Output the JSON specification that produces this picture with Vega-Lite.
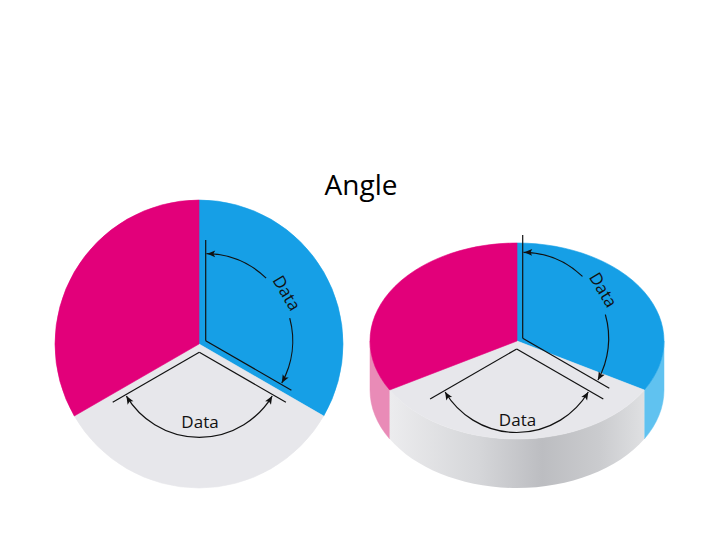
{
  "$schema": "https://vega.github.io/schema/vega-lite/v6.json",
  "width": 720,
  "height": 540,
  "padding": 0,
  "autosize": {"type": "none"},
  "background": "white",
  "config": {"view": {"stroke": null}},
  "datasets": {
    "pies": [
      {"pie": "flat", "slice": "A", "start": 0, "end": 120, "cx": 199, "cy": 344},
      {"pie": "flat", "slice": "B", "start": 120, "end": 240, "cx": 199, "cy": 344},
      {"pie": "flat", "slice": "C", "start": 240, "end": 360, "cx": 199, "cy": 344},
      {"pie": "3d", "slice": "A", "start": 0, "end": 120, "cx": 517, "cy": 341},
      {"pie": "3d", "slice": "B", "start": 120, "end": 240, "cx": 517, "cy": 341},
      {"pie": "3d", "slice": "C", "start": 240, "end": 360, "cx": 517, "cy": 341}
    ],
    "guides": [
      {"x": 205.7, "y": 240, "x2": 205.7, "y2": 340.7},
      {"x": 205.7, "y": 340.7, "x2": 291.4, "y2": 390.2},
      {"x": 112.7, "y": 402.3, "x2": 199.3, "y2": 352.3},
      {"x": 199.3, "y": 352.3, "x2": 285.9, "y2": 402.3},
      {"x": 522.7, "y": 235, "x2": 522.7, "y2": 338.3},
      {"x": 522.7, "y": 338.3, "x2": 609.3, "y2": 388.3},
      {"x": 430.1, "y": 399, "x2": 516.7, "y2": 349},
      {"x": 516.7, "y": 349, "x2": 603.3, "y2": 399}
    ],
    "arcs": [
      {"cx": 205.7, "cy": 340.7, "r": 87, "t0": 0.5, "t1": 44},
      {"cx": 205.7, "cy": 340.7, "r": 87, "t0": 75, "t1": 119},
      {"cx": 199.3, "cy": 352.3, "r": 85, "t0": 121, "t1": 239},
      {"cx": 522.7, "cy": 338.3, "r": 86, "t0": 0.5, "t1": 44},
      {"cx": 522.7, "cy": 338.3, "r": 86, "t0": 74, "t1": 119},
      {"cx": 516.7, "cy": 349, "r": 83.5, "t0": 121, "t1": 239}
    ],
    "arrows": [
      {"x": 207.2, "y": 253.7, "dir": 271},
      {"x": 281.8, "y": 382.9, "dir": 209},
      {"x": 272.2, "y": 396.1, "dir": 31},
      {"x": 126.4, "y": 396.1, "dir": 329},
      {"x": 524.2, "y": 252.3, "dir": 271},
      {"x": 597.9, "y": 380.0, "dir": 209},
      {"x": 588.3, "y": 392.0, "dir": 31},
      {"x": 445.1, "y": 392.0, "dir": 329}
    ],
    "labels": [
      {"x": 285.8, "y": 293.5, "text": "Data", "rot": 59.5},
      {"x": 200, "y": 423, "text": "Data", "rot": 0},
      {"x": 602.4, "y": 290.4, "text": "Data", "rot": 59},
      {"x": 517.5, "y": 421, "text": "Data", "rot": 0}
    ],
    "title": [
      {"x": 361, "y": 195, "text": "Angle"}
    ]
  },
  "layer": [
    {
      "data": {"name": "pies"},
      "transform": [{"filter": "datum.pie == 'flat'"}],
      "mark": {"type": "arc", "radius": 144, "strokeWidth": 0.6},
      "encoding": {
        "x": {"field": "cx", "type": "quantitative", "scale": {"domain": [0, 720], "nice": false, "zero": false}, "axis": null},
        "y": {"field": "cy", "type": "quantitative", "scale": {"domain": [0, 540], "nice": false, "zero": false, "reverse": true}, "axis": null},
        "theta": {"field": "start", "type": "quantitative", "scale": {"domain": [0, 360], "range": [0, 6.283185307179586]}},
        "theta2": {"field": "end"},
        "color": {"field": "slice", "type": "nominal", "scale": {"domain": ["A", "B", "C"], "range": ["#169FE6", "#E7E7EB", "#E2007A"]}, "legend": null},
        "stroke": {"field": "slice", "type": "nominal", "scale": {"domain": ["A", "B", "C"], "range": ["#169FE6", "#E7E7EB", "#E2007A"]}, "legend": null}
      }
    },
    {
      "data": {"name": "pies"},
      "transform": [{"filter": "datum.pie == '3d' && datum.slice == 'C'"}],
      "mark": {"type": "point", "filled": true, "opacity": 1, "size": 86436, "fill": "#E98BB7", "stroke": "#E98BB7", "strokeWidth": 0.5,
        "shape": "M-1,0 A1,0.6667 0 0,0 -0.866,0.3333 L-0.866,0.6667 A1,0.6667 0 0,1 -1,0.3333 Z"},
      "encoding": {
        "x": {"field": "cx", "type": "quantitative"},
        "y": {"field": "cy", "type": "quantitative"}
      }
    },
    {
      "data": {"name": "pies"},
      "transform": [{"filter": "datum.pie == '3d' && datum.slice == 'A'"}],
      "mark": {"type": "point", "filled": true, "opacity": 1, "size": 86436, "fill": "#60C2F0", "stroke": "#60C2F0", "strokeWidth": 0.5,
        "shape": "M0.866,0.3333 A1,0.6667 0 0,0 1,0 L1,0.3333 A1,0.6667 0 0,1 0.866,0.6667 Z"},
      "encoding": {
        "x": {"field": "cx", "type": "quantitative"},
        "y": {"field": "cy", "type": "quantitative"}
      }
    },
    {
      "data": {"name": "pies"},
      "transform": [{"filter": "datum.pie == '3d' && datum.slice == 'B'"}],
      "mark": {"type": "point", "filled": true, "opacity": 1, "size": 86436,
        "fill": {"gradient": "linear", "x1": 0, "y1": 0, "x2": 1, "y2": 0,
          "stops": [
            {"offset": 0, "color": "#ECECEE"},
            {"offset": 0.35, "color": "#D5D6D9"},
            {"offset": 0.6, "color": "#BCBDC1"},
            {"offset": 0.82, "color": "#CACBCE"},
            {"offset": 1, "color": "#DFE0E2"}
          ]},
        "shape": "M-0.866,0.3333 A1,0.6667 0 0,0 0.866,0.3333 L0.866,0.6667 A1,0.6667 0 0,1 -0.866,0.6667 Z"},
      "encoding": {
        "x": {"field": "cx", "type": "quantitative"},
        "y": {"field": "cy", "type": "quantitative"}
      }
    },
    {
      "data": {"name": "pies"},
      "transform": [{"filter": "datum.pie == '3d'"}],
      "mark": {"type": "point", "filled": true, "opacity": 1, "size": 86436, "strokeWidth": 0.6},
      "encoding": {
        "x": {"field": "cx", "type": "quantitative"},
        "y": {"field": "cy", "type": "quantitative"},
        "shape": {"field": "slice", "type": "nominal", "legend": null, "scale": {"domain": ["A", "B", "C"], "range": [
          "M0,0 L0,-0.6667 A1,0.6667 0 0,1 0.866,0.3333 Z",
          "M0,0 L0.866,0.3333 A1,0.6667 0 0,1 -0.866,0.3333 Z",
          "M0,0 L-0.866,0.3333 A1,0.6667 0 0,1 0,-0.6667 Z"
        ]}},
        "color": {"field": "slice", "type": "nominal"},
        "stroke": {"field": "slice", "type": "nominal"}
      }
    },
    {
      "data": {"name": "guides"},
      "mark": {"type": "rule", "color": "#111111", "strokeWidth": 1.2},
      "encoding": {
        "x": {"field": "x", "type": "quantitative"},
        "y": {"field": "y", "type": "quantitative"},
        "x2": {"field": "x2"},
        "y2": {"field": "y2"}
      }
    },
    {
      "data": {"name": "arcs"},
      "mark": {"type": "arc", "filled": false, "stroke": "#111111", "color": "#111111", "strokeWidth": 1.2},
      "encoding": {
        "x": {"field": "cx", "type": "quantitative"},
        "y": {"field": "cy", "type": "quantitative"},
        "theta": {"field": "t0", "type": "quantitative"},
        "theta2": {"field": "t1"},
        "radius": {"field": "r", "type": "quantitative", "scale": null},
        "radius2": {"field": "r"}
      }
    },
    {
      "data": {"name": "arrows"},
      "mark": {"type": "point", "filled": true, "opacity": 1, "size": 64, "color": "#111111",
        "shape": "M0,0 L0.85,2 L0,1.55 L-0.85,2 Z"},
      "encoding": {
        "x": {"field": "x", "type": "quantitative"},
        "y": {"field": "y", "type": "quantitative"},
        "angle": {"field": "dir", "type": "quantitative", "scale": null}
      }
    },
    {
      "data": {"name": "labels"},
      "mark": {"type": "text", "font": "Open Sans", "fontSize": 17, "align": "center", "baseline": "middle", "color": "#111111"},
      "encoding": {
        "x": {"field": "x", "type": "quantitative"},
        "y": {"field": "y", "type": "quantitative"},
        "text": {"field": "text"},
        "angle": {"field": "rot", "type": "quantitative", "scale": null}
      }
    },
    {
      "data": {"name": "title"},
      "mark": {"type": "text", "font": "Open Sans", "fontSize": 28, "align": "center", "baseline": "alphabetic", "color": "#000000"},
      "encoding": {
        "x": {"field": "x", "type": "quantitative"},
        "y": {"field": "y", "type": "quantitative"},
        "text": {"field": "text"}
      }
    }
  ]
}
